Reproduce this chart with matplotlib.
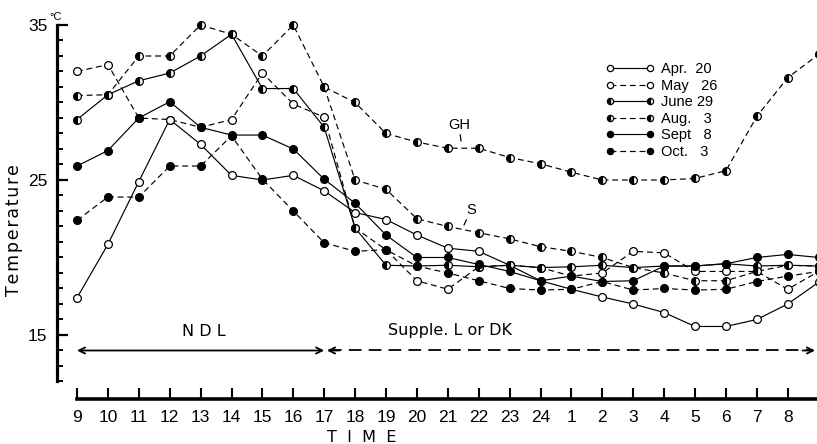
import matplotlib
matplotlib.use('Agg')
import matplotlib.pyplot as plt
from matplotlib.ticker import FixedLocator

# ---------------- data ----------------
hour_labels = ['9', '10', '11', '12', '13', '14', '15', '16', '17', '18', '19', '20',
               '21', '22', '23', '24', '1', '2', '3', '4', '5', '6', '7', '8']
hours = list(range(25))          # 9h ... 8h, 9h (next morning)

apr20 = [17.4, 20.85, 24.9, 28.9, 27.3, 25.3, 25.0, 25.3, 24.3, 22.9, 22.45, 21.45, 20.6,
         20.4, 19.5, 18.5, 17.95, 17.45, 17.0, 16.45, 15.55, 15.55, 16.0, 17.0, 18.4]
may26 = [32.0, 32.45, 29.0, 28.9, 28.4, 28.9, 31.9, 29.9, 29.05, 21.9, 20.5, 18.5, 17.95,
         19.4, 19.5, 19.35, 18.8, 19.0, 20.4, 20.3, 19.1, 19.1, 19.1, 17.95, 19.1]
june29 = [28.9, 30.5, 31.4, 31.9, 33.0, 34.4, 30.9, 30.9, 28.4, 21.9, 19.5, 19.45, 19.5,
          19.4, 19.5, 19.35, 19.4, 19.5, 19.35, 19.45, 19.45, 19.6, 19.45, 19.5, 19.45]
aug3_gh = [30.45, 30.5, 33.0, 33.0, 35.0, 34.4, 33.0, 35.0, 31.0, 30.0, 28.0, 27.45, 27.05,
           27.05, 26.45, 26.05, 25.5, 25.0, 25.0, 25.0, 25.1, 25.6, 29.1, 31.6, 33.1]
aug3_s_hours = list(range(8, 25))
aug3_s = [31.0, 25.0, 24.4, 22.5, 22.0, 21.6, 21.2, 20.7, 20.4, 20.0, 19.35, 19.0, 18.5,
          18.5, 19.1, 19.5, 19.45]
sept8 = [25.9, 26.9, 29.0, 30.05, 28.4, 27.9, 27.9, 27.0, 25.05, 23.5, 21.45, 20.0, 20.0,
         19.55, 19.1, 18.5, 18.8, 18.45, 18.5, 19.45, 19.45, 19.6, 20.0, 20.2, 20.0]
oct3 = [22.4, 23.9, 23.9, 25.9, 25.9, 27.85, 25.05, 23.0, 20.95, 20.4, 20.5, 19.45, 19.0,
        18.5, 18.0, 17.9, 17.95, 18.45, 17.9, 18.0, 17.9, 17.95, 18.45, 18.8, 19.1]

series_labels = ['Apr.  20', 'May   26', 'June 29', 'Aug.   3', 'Sept   8', 'Oct.   3']

# ---------------- layout ----------------
W, H = 817, 444
fig = plt.figure(figsize=(W / 100, H / 100), dpi=100)

X0, DX = 77.0, 30.9          # pixel of hour index 0, pixels per hour
Y25, DY = 180.0, 15.5        # pixel of 25 deg C, pixels per degree


def px2x(px):
    return (px - X0) / DX


def px2t(py):
    return 25 - (py - Y25) / DY


AL, AR, AT, AB = 57, 817, 20, 400
ax = fig.add_axes([AL / W, 1 - AB / H, (AR - AL) / W, (AB - AT) / H])
ax.set_xlim(px2x(AL), px2x(AR))
ax.set_ylim(px2t(AB), px2t(AT))

narrow = ['Liberation Sans', 'DejaVu Sans']

# ---------------- series ----------------
lw = 0.85
ms = 5.6
dash = (0, (5, 3.2))
open_kw = dict(marker='o', mfc='white', mec='black', mew=0.9)
half_kw = dict(marker='o', fillstyle='left', mfc='black', mfcalt='white', mec='black', mew=0.9)
fill_kw = dict(marker='o', mfc='black', mec='black', mew=0.9)

l_apr, = ax.plot(hours, apr20, color='black', lw=lw, ls='-', ms=ms, clip_on=False, **open_kw)
l_may, = ax.plot(hours, may26, color='black', lw=lw, ls=dash, ms=ms, clip_on=False, **open_kw)
l_jun, = ax.plot(hours, june29, color='black', lw=lw, ls='-', ms=ms, clip_on=False, **half_kw)
l_aug, = ax.plot(hours, aug3_gh, color='black', lw=lw, ls=dash, ms=ms, clip_on=False, **half_kw)
ax.plot(aug3_s_hours, aug3_s, color='black', lw=lw, ls=dash, ms=ms, clip_on=False, **half_kw)
l_sep, = ax.plot(hours, sept8, color='black', lw=lw, ls='-', ms=ms, clip_on=False, **fill_kw)
l_oct, = ax.plot(hours, oct3, color='black', lw=lw, ls=dash, ms=ms, clip_on=False, **fill_kw)

# ---------------- axes styling ----------------
for s in ['top', 'right']:
    ax.spines[s].set_visible(False)
ax.spines['left'].set_bounds(12, 35)
ax.spines['left'].set_linewidth(2.3)
ax.spines['bottom'].set_position(('data', px2t(399)))
ax.spines['bottom'].set_bounds(0, 25)
ax.spines['bottom'].set_linewidth(2.6)

ax.set_yticks([15, 25, 35])
ax.set_yticklabels(['15', '25', '35'])
ax.yaxis.set_minor_locator(FixedLocator(list(range(12, 36))))
ax.tick_params(axis='y', which='major', direction='in', length=8, width=1.6, pad=7,
               labelsize=12.5)
ax.tick_params(axis='y', which='minor', direction='in', length=4.3, width=1.4)

ax.set_xticks(list(range(24)))
ax.set_xticklabels(hour_labels)
ax.tick_params(axis='x', which='major', direction='in', length=8, width=1.5, pad=8,
               labelsize=12.5)
for lbl in ax.get_xticklabels() + ax.get_yticklabels():
    lbl.set_family(narrow)

fig.text(49 / W, 1 - 17 / H, '°C', fontsize=8, ha='left', va='center', family=narrow)
fig.text(14 / W, 1 - 230 / H, '\u200a'.join('Temperature'), rotation=90, ha='center',
         va='center', fontsize=12.5)
fig.text(362 / W, 1 - 437 / H, 'T  I  M  E', ha='center', va='center', fontsize=11.5)

# ---------------- annotations ----------------
ax.text(px2x(204), px2t(331), 'N D L', ha='center', va='center', fontsize=11.5)
ax.text(px2x(388), px2t(331), 'Supple. L or DK', ha='left', va='center', fontsize=11.5)

ax.annotate('', xy=(0, 14), xytext=(8, 14),
            arrowprops=dict(arrowstyle='<->', lw=1.3, color='black', shrinkA=0, shrinkB=0,
                            mutation_scale=11))
xl, xr = px2x(327), px2x(815)
ax.plot([xl + 0.05, xr - 0.05], [14, 14], color='black', lw=1.3, ls=(0, (7, 4)))
ax.annotate('', xy=(xl, 14), xytext=(xl + 0.4, 14),
            arrowprops=dict(arrowstyle='->', lw=1.3, color='black', shrinkA=0, shrinkB=0,
                            mutation_scale=11))
ax.annotate('', xy=(xr, 14), xytext=(xr - 0.4, 14),
            arrowprops=dict(arrowstyle='->', lw=1.3, color='black', shrinkA=0, shrinkB=0,
                            mutation_scale=11))

ax.annotate('GH', xy=(px2x(461), px2t(141)), xytext=(px2x(459), px2t(125)),
            ha='center', va='center', fontsize=10.5, family=narrow,
            arrowprops=dict(arrowstyle='-', lw=0.9, color='black', shrinkA=5, shrinkB=0))
ax.annotate('S', xy=(px2x(464), px2t(225)), xytext=(px2x(471), px2t(210)),
            ha='center', va='center', fontsize=10.5, family=narrow,
            arrowprops=dict(arrowstyle='-', lw=0.9, color='black', shrinkA=5, shrinkB=0))

# ---------------- legend ----------------
leg = ax.legend(handles=[l_apr, l_may, l_jun, l_aug, l_sep, l_oct], labels=series_labels,
                loc='upper left',
                bbox_to_anchor=((606 - AL) / (AR - AL), 1 - (62 - AT) / (AB - AT)),
                numpoints=2, handlelength=3.3, handletextpad=0.5, labelspacing=0.18,
                frameon=False, borderpad=0, borderaxespad=0, markerscale=0.8,
                prop={'family': narrow, 'size': 10.5})

fig.savefig('out.png', dpi=100)
